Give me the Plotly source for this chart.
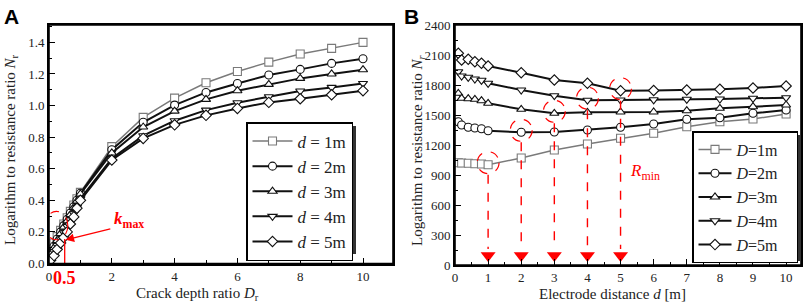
import plotly.graph_objects as go

W, H = 809, 307

# ---------- Panel A data ----------
crack_ratio = [0.05, 0.16, 0.26, 0.37, 0.47, 0.58, 0.68, 0.79, 0.89, 1.0, 2, 3, 4, 5, 6, 7, 8, 9, 10]
nr_d1 = [0.09, 0.13, 0.17, 0.21, 0.25, 0.29, 0.33, 0.37, 0.41, 0.45, 0.74, 0.925, 1.047, 1.144, 1.216, 1.275, 1.326, 1.362, 1.40]
nr_d2 = [0.07, 0.11, 0.155, 0.20, 0.24, 0.28, 0.32, 0.36, 0.40, 0.445, 0.72, 0.894, 1.003, 1.083, 1.14, 1.193, 1.229, 1.267, 1.296]
nr_d3 = [0.06, 0.10, 0.145, 0.19, 0.23, 0.27, 0.31, 0.355, 0.395, 0.44, 0.70, 0.864, 0.965, 1.039, 1.094, 1.134, 1.172, 1.20, 1.227]
nr_d4 = [0.04, 0.075, 0.115, 0.155, 0.195, 0.235, 0.275, 0.315, 0.355, 0.41, 0.665, 0.809, 0.904, 0.971, 1.018, 1.056, 1.092, 1.115, 1.14]
nr_d5 = [0.02, 0.05, 0.09, 0.13, 0.165, 0.20, 0.25, 0.295, 0.35, 0.40, 0.655, 0.792, 0.878, 0.938, 0.982, 1.02, 1.043, 1.068, 1.094]
names_a = ["<i>d</i> = 1m", "<i>d</i> = 2m", "<i>d</i> = 3m", "<i>d</i> = 4m", "<i>d</i> = 5m"]

# ---------- Panel B data ----------
electrode_d = [0.1, 0.2, 0.4, 0.6, 0.8, 1, 2, 3, 4, 5, 6, 7, 8, 9, 10]
nr_D1 = [1023, 1020, 1017, 1013, 1010, 1003, 1070, 1150, 1210, 1267, 1317, 1383, 1433, 1460, 1510]
nr_D2 = [1433, 1400, 1377, 1370, 1363, 1343, 1327, 1330, 1350, 1377, 1410, 1457, 1473, 1517, 1550]
nr_D3 = [1717, 1667, 1663, 1657, 1643, 1617, 1557, 1517, 1527, 1530, 1530, 1543, 1567, 1583, 1600]
nr_D4 = [1933, 1890, 1877, 1860, 1847, 1817, 1750, 1693, 1648, 1650, 1652, 1657, 1660, 1667, 1673]
nr_D5 = [2117, 2050, 2057, 2033, 2017, 1990, 1923, 1850, 1817, 1743, 1745, 1750, 1757, 1770, 1790]
names_b = ["<i>D</i>=1m", "<i>D</i>=2m", "<i>D</i>=3m", "<i>D</i>=4m", "<i>D</i>=5m"]

sym_fill = ["square", "circle", "triangle-up", "triangle-down", "diamond"]
colors = ["#7a7a7a", "#111111", "#111111", "#111111", "#111111"]
widths = [1.5, 2, 2, 2, 2]

SERIF = "Liberation Serif"
fig = go.Figure()

for i, ys in enumerate([nr_d1, nr_d2, nr_d3, nr_d4, nr_d5]):
    fig.add_trace(go.Scatter(
        x=crack_ratio, y=ys, mode="lines+markers", name=names_a[i],
        line=dict(color=colors[i], width=widths[i]),
        marker=dict(symbol=sym_fill[i], size=8, color="white",
                    line=dict(color=colors[i], width=1.1)),
        xaxis="x", yaxis="y", legend="legend"))

for i, ys in enumerate([nr_D1, nr_D2, nr_D3, nr_D4, nr_D5]):
    fig.add_trace(go.Scatter(
        x=electrode_d, y=ys, mode="lines+markers", name=names_b[i] + "&nbsp;&nbsp;&nbsp;",
        line=dict(color=colors[i], width=widths[i]),
        marker=dict(symbol=sym_fill[i], size=8, color="white",
                    line=dict(color=colors[i], width=1.1)),
        xaxis="x2", yaxis="y2", legend="legend2"))

# minima of each panel-B series (R_min)
shapes = []
min_x, min_y = [], []
for ys in [nr_D1, nr_D2, nr_D3, nr_D4, nr_D5]:
    k = ys.index(min(ys))
    xm, ym = electrode_d[k], ys[k]
    min_x.append(xm); min_y.append(ym)
    shapes.append(dict(type="circle", xref="x2", yref="y2",
                       x0=xm - 0.33, x1=xm + 0.33, y0=ym - 90, y1=ym + 130,
                       line=dict(color="red", width=1.2, dash="dash")))
    shapes.append(dict(type="line", xref="x2", yref="y2",
                       x0=xm, x1=xm, y0=ym - 100, y1=160,
                       line=dict(color="red", width=1.4, dash="dash")))

fig.add_trace(go.Scatter(
    x=min_x, y=[95] * len(min_x), mode="markers", showlegend=False,
    marker=dict(symbol="triangle-down", size=13, color="red", line=dict(width=0)),
    xaxis="x2", yaxis="y2", hoverinfo="skip"))

# panel A red markings
shapes.append(dict(type="circle", xref="x", yref="y", x0=-0.13, x1=0.6, y0=0.15, y1=0.33,
                   line=dict(color="red", width=1.1, dash="dash")))
shapes.append(dict(type="line", xref="x", yref="y", x0=0.5, x1=0.5, y0=0, y1=0.155,
                   line=dict(color="red", width=1.3)))

def px(xp): return xp / W
def py(yp): return 1 - yp / H

# frames
for xa, ya in (("x", "y"), ("x2", "y2")):
    shapes.append(dict(type="rect", xref=xa + " domain", yref=ya + " domain",
                       x0=0, x1=1, y0=0, y1=1, line=dict(color="black", width=1.6)))

# legend shadows
shapes.append(dict(type="rect", xref="paper", yref="paper", layer="above",
                   x0=px(250), x1=px(356), y0=py(254), y1=py(126),
                   fillcolor="#333", line=dict(width=0)))
shapes.append(dict(type="rect", xref="paper", yref="paper", layer="above",
                   x0=px(696), x1=px(801), y0=py(261), y1=py(135),
                   fillcolor="#333", line=dict(width=0)))

axis_common = dict(showline=True, linecolor="black", linewidth=1.6, mirror=True,
                   ticks="inside", ticklen=6, tickwidth=1.4, tickcolor="black",
                   showgrid=False, zeroline=False,
                   tickfont=dict(family=SERIF, size=13, color="#222"),
                   automargin=False)

def ann(text, x, y, size, color="#222", family=SERIF, angle=0, xref="paper", yref="paper"):
    return dict(text=text, x=x, y=y, xref=xref, yref=yref, showarrow=False,
                xanchor="center", yanchor="middle", textangle=angle,
                font=dict(family=family, size=size, color=color))

annotations = [
    ann("<b>A</b>", px(11), py(16), 21, "black", "Liberation Sans"),
    ann("<b>B</b>", px(411), py(16), 21, "black", "Liberation Sans"),
    ann("Logarithm to resistance ratio <i>N</i><sub>r</sub>", px(11), py(150), 15, angle=-90),
    ann("Logarithm to resistance ratio <i>N</i><sub><i>r</i></sub>", px(418), py(150), 15, angle=-90),
    ann("Crack depth ratio <i>D</i><sub>r</sub>", px(197), py(294), 15),
    ann("Electrode distance <i>d</i> [m]", px(612), py(294), 15),
    dict(text="", x=0.53, y=0.15, xref="x", yref="y", ax=2.0, ay=0.222, axref="x", ayref="y",
         showarrow=True, arrowhead=2, arrowsize=1.3, arrowwidth=1.3, arrowcolor="red"),
    ann("<b><i>k</i><sub>max</sub></b>", 2.55, 0.275, 17, "red", xref="x", yref="y"),
    ann("<b>0.5</b>", 0.5, py(278), 18, "red", xref="x"),
    ann("<i>R</i><sub>min</sub>", 5.75, 930, 17, "red", xref="x2", yref="y2"),
]

legend_common = dict(bgcolor="white", bordercolor="black", borderwidth=1.5,
                     xanchor="left", yanchor="top", tracegroupgap=0)

fig.update_layout(
    width=W, height=H, margin=dict(l=0, r=0, t=0, b=0),
    paper_bgcolor="white", plot_bgcolor="white",
    xaxis=dict(domain=[px(49), px(393)], range=[0, 10.955], tick0=0, dtick=2,
               minor=dict(dtick=1, ticks="inside", ticklen=3.5, tickcolor="black"),
               anchor="y", **axis_common),
    yaxis=dict(domain=[py(263.5), py(25)], range=[0, 1.51], tick0=0, dtick=0.2, tickformat=".1f",
               minor=dict(dtick=0.1, ticks="inside", ticklen=3.5, tickcolor="black"),
               anchor="x", **axis_common),
    xaxis2=dict(domain=[px(455), px(801)], range=[0, 10.45], tick0=0, dtick=1,
                minor=dict(dtick=0.5, ticks="inside", ticklen=3.5, tickcolor="black"),
                anchor="y2", **axis_common),
    yaxis2=dict(domain=[py(265), py(25)], range=[0, 2400], tick0=0, dtick=300,
                minor=dict(dtick=150, ticks="inside", ticklen=3.5, tickcolor="black"),
                anchor="x2", **axis_common),
    legend=dict(x=px(246), y=py(122), font=dict(family=SERIF, size=17, color="#222"),
                itemwidth=40, **legend_common),
    legend2=dict(x=px(692), y=py(131), font=dict(family=SERIF, size=16, color="#222"),
                 itemwidth=33, **legend_common),
    shapes=shapes, annotations=annotations, showlegend=True,
)

fig.write_html("out.html", config={"displayModeBar": False},
               post_script="document.body.style.margin='0';document.body.style.overflow='hidden';")
